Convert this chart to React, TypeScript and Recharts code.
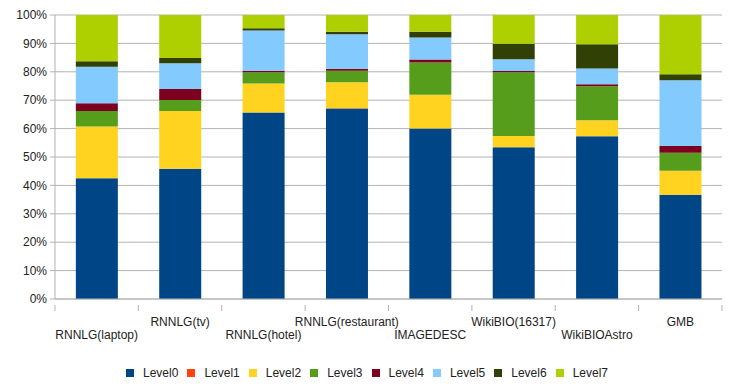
import { Bar, BarChart, CartesianGrid, XAxis, YAxis } from "recharts";

const categories = [
  "RNNLG(laptop)",
  "RNNLG(tv)",
  "RNNLG(hotel)",
  "RNNLG(restaurant)",
  "IMAGEDESC",
  "WikiBIO(16317)",
  "WikiBIOAstro",
  "GMB"
];

const level0 = [42.5, 45.9, 65.7, 67.1, 60.0, 53.4, 57.3, 36.7];
const level1 = [0, 0, 0, 0.1, 0, 0, 0, 0];
const level2 = [18.2, 20.3, 10.2, 9.1, 11.9, 4.0, 5.6, 8.5];
const level3 = [5.5, 3.9, 3.9, 4.1, 11.4, 22.4, 12.0, 6.3];
const level4 = [2.7, 3.8, 0.6, 0.7, 1.0, 0.5, 0.7, 2.4];
const level5 = [12.9, 9.1, 14.1, 12.1, 7.8, 4.1, 5.6, 23.1];
const level6 = [1.9, 1.9, 0.8, 0.9, 2.0, 5.5, 8.5, 2.1];
const level7 = [16.3, 15.1, 4.7, 5.9, 5.9, 10.1, 10.3, 20.9];

const levelNames = ["Level0", "Level1", "Level2", "Level3", "Level4", "Level5", "Level6", "Level7"];
const levelColors = ["#004586", "#ff420e", "#ffd320", "#579d1c", "#7e0021", "#83caff", "#314004", "#aecf00"];
const levelValues = [level0, level1, level2, level3, level4, level5, level6, level7];

const yTicks = [0, 0.1, 0.2, 0.3, 0.4, 0.5, 0.6, 0.7, 0.8, 0.9, 1];

const data = categories.map((name, i) => {
  const row: Record<string, string | number> = { name };
  levelNames.forEach((level, j) => {
    row[level] = levelValues[j][i];
  });
  return row;
});

const CHART_W = 743;
const CHART_H = 392;
const LEFT = 55;
const RIGHT = 21;
const band = (CHART_W - LEFT - RIGHT) / categories.length;
const FONT = "Liberation Sans, Arial, sans-serif";

function CategoryTick(props: any) {
  const { x, y, payload, index } = props;
  const upper = index % 2 === 1;
  const last = index === categories.length - 1;
  return (
    <g>
      <line x1={x - band / 2} x2={x - band / 2} y1={y - 8} y2={y - 2} stroke="#b3b3b3" />
      {last && <line x1={x + band / 2} x2={x + band / 2} y1={y - 8} y2={y - 2} stroke="#b3b3b3" />}
      <text x={x} y={upper ? y + 13 : y + 26} textAnchor="middle" fontSize={12} fill="#222" fontFamily={FONT}>
        {payload.value}
      </text>
    </g>
  );
}

function LegendRow() {
  return (
    <div
      style={{
        position: "absolute",
        top: 366,
        left: 0,
        width: CHART_W,
        display: "flex",
        justifyContent: "center",
        fontFamily: FONT,
        fontSize: 12,
        lineHeight: "14px",
        color: "#222"
      }}
    >
      {levelNames.map((level, i) => (
        <span key={level} style={{ display: "inline-flex", alignItems: "center", marginRight: 9 }}>
          <span style={{ width: 8, height: 8, background: levelColors[i], marginRight: 9, display: "inline-block" }} />
          {level}
        </span>
      ))}
    </div>
  );
}

export default function App() {
  return (
    <div style={{ position: "absolute", left: 0, top: 0, width: CHART_W, height: CHART_H, background: "#fff" }}>
      <BarChart
        width={CHART_W}
        height={CHART_H}
        data={data}
        stackOffset="expand"
        barCategoryGap="25%"
        margin={{ top: 15, right: RIGHT, bottom: 0, left: 0 }}
      >
        <CartesianGrid vertical={false} stroke="#b3b3b3" strokeWidth={1} />
        <XAxis
          dataKey="name"
          interval={0}
          height={93}
          axisLine={{ stroke: "#b3b3b3" }}
          tickLine={false}
          tick={<CategoryTick />}
          tickMargin={8}
        />
        <YAxis
          width={LEFT}
          ticks={yTicks}
          domain={[0, 1]}
          interval={0}
          tickFormatter={(v: number) => `${Math.round(v * 100)}%`}
          axisLine={{ stroke: "#b3b3b3" }}
          tickLine={{ stroke: "#b3b3b3" }}
          tickSize={5}
          tickMargin={3}
          tick={{ fontSize: 12, fill: "#222", fontFamily: FONT }}
        />
        <YAxis yAxisId="frame" orientation="right" width={0} tick={false} tickLine={false} axisLine={{ stroke: "#b3b3b3" }} />
        {levelNames.map((level, i) => (
          <Bar key={level} dataKey={level} stackId="a" fill={levelColors[i]} isAnimationActive={false} />
        ))}
      </BarChart>
      <LegendRow />
    </div>
  );
}
